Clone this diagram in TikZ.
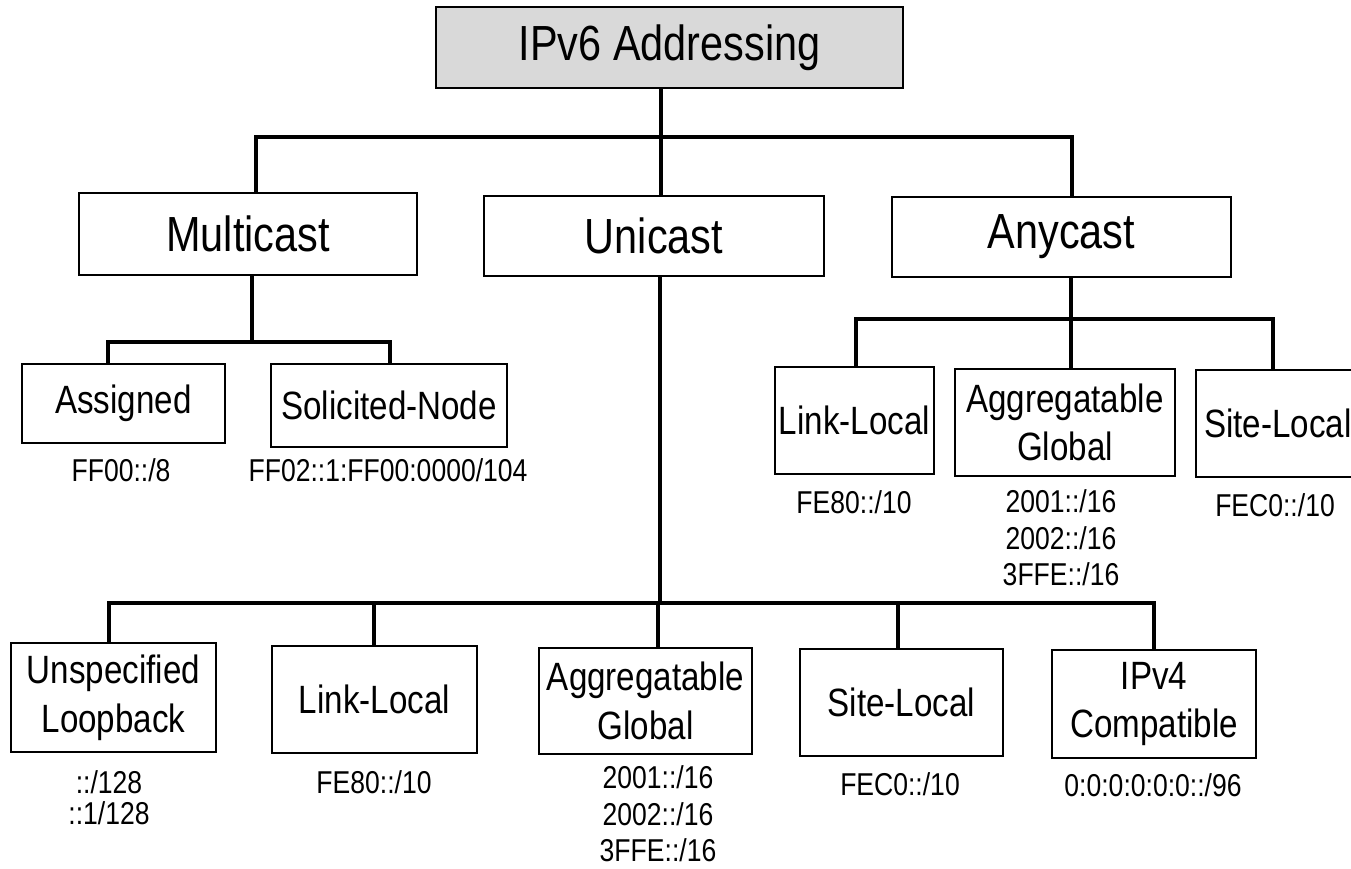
\documentclass[tikz,border=0pt]{standalone}
\usepackage{fontspec}
\setmainfont[FakeStretch=0.84]{Liberation Sans}

\begin{document}
\begin{tikzpicture}[x=0.75pt,y=-0.75pt,
  box/.style={draw=black, line width=2pt, inner sep=0pt, align=center, rectangle},
  headbox/.style={box, fill=black!15},
  topfont/.style={font=\fontsize{37}{40}\selectfont},
  leaffont/.style={font=\fontsize{29.6}{36.5}\selectfont},
  addr/.style={inner sep=0pt, align=center, font=\fontsize{23.7}{27.4}\selectfont},
  conn/.style={draw=black, line width=2.6pt},
  sz/.style 2 args={minimum width=#1pt, minimum height=#2pt}]

\clip (0,0) rectangle (1351,868);

% root and first tier
\node[headbox, topfont, sz={350.25}{60.75}] (title) at (669.5,47.5) {IPv6 Addressing};
\node[box, topfont, sz={253.5}{61.5}] (mc) at (248,234) {Multicast};
\node[box, topfont, sz={255}{60}] (uni) at (654,236) {Unicast};
\node[box, topfont, sz={254.25}{60}] (an) at (1061.5,237) {Anycast};

% multicast leaves
\node[box, leaffont, sz={152.25}{59.25}] (asg) at (123.5,403.5) {Assigned};
\node[box, leaffont, sz={177}{62.25}] (sol) at (389,405.5) {Solicited-Node};
\node[addr] (asgA) at (121,470) {FF00::/8};
\node[addr] (solA) at (388,470) {FF02::1:FF00:0000/104};

% anycast leaves
\node[box, leaffont, sz={119.25}{80.25}] (all) at (854.5,420.5) {Link-Local};
\node[box, leaffont, sz={165}{80.25}] (aag) at (1065,422.5) {Aggregatable\\Global};
\node[box, leaffont, sz={123}{80.25}] (asl) at (1278,423.5) {Site-Local};
\node[addr] (allA) at (854,502) {FE80::/10};
\node[addr] (aagA) at (1061,538) {2001::/16\\2002::/16\\3FFE::/16};
\node[addr] (aslA) at (1275,505) {FEC0::/10};

% unicast leaves
\node[box, leaffont, sz={153.75}{81.75}] (ulb) at (113.5,697.5) {Unspecified\\Loopback};
\node[box, leaffont, sz={153.75}{80.25}] (ull) at (374.5,699.5) {Link-Local};
\node[box, leaffont, sz={159.75}{79.5}] (uag) at (645.5,701) {Aggregatable\\Global};
\node[box, leaffont, sz={152.25}{80.25}] (usl) at (901.5,702.5) {Site-Local};
\node[box, leaffont, sz={153}{81}] (uv4) at (1154,704) {IPv4\\Compatible};
\node[addr, font=\fontsize{23.7}{23.3}\selectfont] (ulbA) at (109,797.5) {::/128\\::1/128};
\node[addr] (ullA) at (374,782) {FE80::/10};
\node[addr] (uagA) at (658,814) {2001::/16\\2002::/16\\3FFE::/16};
\node[addr] (uslA) at (900,784) {FEC0::/10};
\node[addr] (uv4A) at (1153,785) {0:0:0:0:0:0::/96};

% junction points of the tree
\coordinate (t0) at (661,137);
\coordinate (t1) at (256,137);
\coordinate (t2) at (1072,137);
\coordinate (m0) at (252,342);
\coordinate (m1) at (108,342);
\coordinate (m2) at (390,342);
\coordinate (a0) at (1071,319);
\coordinate (a1) at (856,319);
\coordinate (a2) at (1273,319);
\coordinate (u0) at (660,603);
\coordinate (u1) at (109,603);
\coordinate (u2) at (1154,603);
\coordinate (u3) at (374,603);
\coordinate (u4) at (658,603);
\coordinate (u5) at (898,603);

% root to first tier
\draw[conn] (title.south -| t0) -- (uni.north -| t0);
\draw[conn] (mc.north -| t1) -- (t1) -- (t2) -- (an.north -| t2);

% multicast branch
\draw[conn] (mc.south -| m0) -- (m0);
\draw[conn] (asg.north -| m1) -- (m1) -- (m2) -- (sol.north -| m2);

% anycast branch
\draw[conn] (an.south -| a0) -- (aag.north -| a0);
\draw[conn] (all.north -| a1) -- (a1) -- (a2) -- (asl.north -| a2);

% unicast branch
\draw[conn] (uni.south -| u0) -- (u0);
\draw[conn] (ulb.north -| u1) -- (u1) -- (u2) -- (uv4.north -| u2);
\draw[conn] (ull.north -| u3) -- (u3);
\draw[conn] (uag.north -| u4) -- (u4);
\draw[conn] (usl.north -| u5) -- (u5);
\end{tikzpicture}
\end{document}
